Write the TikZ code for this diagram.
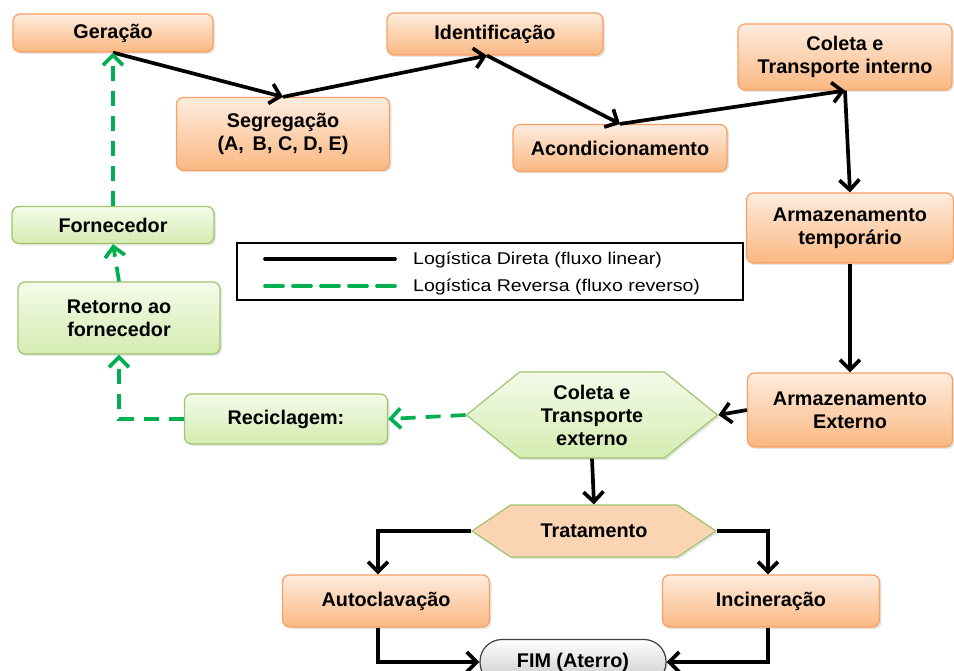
\documentclass[tikz,border=0pt]{standalone}
\usepackage{fontspec}
\setmainfont{Liberation Sans}
\newfontfamily\legendfont[FakeStretch=1.15]{Liberation Sans}
\usetikzlibrary{arrows.meta,shapes.symbols,shadows}

\definecolor{orline}{RGB}{248,160,100}
\definecolor{ortop}{RGB}{254,236,222}
\definecolor{orbot}{RGB}{250,184,130}
\definecolor{grline}{RGB}{160,196,110}
\definecolor{grtop}{RGB}{244,251,234}
\definecolor{grbot}{RGB}{212,236,176}
\definecolor{tratfill}{RGB}{251,212,180}
\definecolor{revgreen}{RGB}{0,176,80}

\newcommand{\boxfont}{\bfseries\fontsize{19.8}{23}\selectfont}

\tikzset{
  obox/.style={draw=orline, line width=1.2pt, rounded corners=7pt, top color=ortop, bottom color=orbot,
    align=center, font=\boxfont, inner sep=0pt, drop shadow={opacity=0.2, shadow xshift=2pt, shadow yshift=-2pt}},
  gbox/.style={obox, draw=grline, top color=grtop, bottom color=grbot},
  flow/.style={line width=3.7pt, black, -{Straight Barb[length=10pt,width=20pt]}},
  revflow/.style={line width=3.7pt, revgreen, dash pattern=on 15pt off 10pt, -{Straight Barb[length=10pt,width=20pt]}}
}

\begin{document}
\begin{tikzpicture}[x=1pt,y=-1pt]

\useasboundingbox (0,0) rectangle (954,671);

% direct chain
\node[obox, minimum width=200, minimum height=38] (ger) at (113,33) {Geração};
\node[obox, minimum width=213, minimum height=73] (seg) at (283,134) {Segregação\\(A,\, B, C, D, E)};
\node[obox, minimum width=216, minimum height=42] (ident) at (495,34) {Identificação};
\node[obox, minimum width=214, minimum height=47] (acond) at (620,148) {Acondicionamento};
\node[obox, minimum width=214, minimum height=66] (colint) at (845,57) {Coleta e\\Transporte interno};
\node[obox, minimum width=207, minimum height=70] (armtemp) at (850,228) {Armazenamento\\temporário};
\node[obox, minimum width=205, minimum height=74] (armext) at (850,410) {Armazenamento\\Externo};

\node[gbox, shape=signal, signal to=west and east, signal pointer angle=78, rounded corners=0pt,
  minimum width=251, minimum height=86] (colext) at (592,415) {Coleta e\\Transporte\\externo};
\node[shape=signal, signal to=west and east, signal pointer angle=68, draw=grline, line width=1.2pt,
  fill=tratfill, font=\boxfont, inner sep=0pt, minimum width=244, minimum height=52,
  drop shadow={opacity=0.2, shadow xshift=2pt, shadow yshift=-2pt}] (trat) at (594,531) {Tratamento};
\node[obox, minimum width=207, minimum height=52] (auto) at (386,601) {Autoclavação};
\node[obox, minimum width=217, minimum height=52] (incin) at (771,601) {Incineração};
\node[obox, draw=black!75, top color=white, bottom color=black!22, rounded corners=22pt,
  minimum width=186, minimum height=45] (fim) at (573,662) {FIM (Aterro)};

% reverse chain
\node[gbox, minimum width=203, minimum height=50] (recic) at (286,419) {Reciclagem:};
\node[gbox, minimum width=202, minimum height=72] (retorno) at (119,318) {Retorno ao\\fornecedor};
\node[gbox, minimum width=202, minimum height=37] (forn) at (113,225) {Fornecedor};

% legend
\node[draw, line width=1.8pt, minimum width=506, minimum height=57, inner sep=0pt] (legend) at (490,271.5) {};
\coordinate (dira) at (265,259);
\coordinate (dirb) at (395,259);
\coordinate (reva) at (265,286);
\coordinate (revb) at (395,286);
\draw[line width=3.7pt, line cap=round] (dira) -- (dirb);
\draw[line width=3.7pt, revgreen, dash pattern=on 18pt off 10pt, line cap=round] (reva) -- (revb);
\node[anchor=west, font=\legendfont\fontsize{17}{19}\selectfont, inner sep=0pt] (dirtxt) at (413,260) {Logística Direta (fluxo linear)};
\node[anchor=west, font=\legendfont\fontsize{17}{19}\selectfont, inner sep=0pt] (revtxt) at (413,287) {Logística Reversa (fluxo reverso)};

\draw[flow] (ger.south) -- (seg.north);
\draw[flow] (seg.north) -- ([xshift=-8pt]ident.south);
\draw[flow] ([xshift=-8pt]ident.south) -- (acond.north);
\draw[flow] (acond.north) -- (colint.south);
\draw[flow] (colint.south) -- (armtemp.north);
\draw[flow] (armtemp.south) -- (armext.north);
\draw[flow] (armext.west) -- (colext.east);
\draw[flow] (colext.south) -- (trat.north);
\draw[flow] (trat.west) -| ([xshift=-8pt]auto.north);
\draw[flow] (trat.east) -| ([xshift=-3pt]incin.north);
\draw[flow] ([xshift=-8pt]auto.south) |- (fim.west);
\draw[flow] ([xshift=-3pt]incin.south) |- (fim.east);

\draw[revflow] (colext.west) -- (recic.east);
\draw[revflow] (recic.west) -| (retorno.south);
\draw[revflow] (retorno.north) -- (forn.south);
\draw[revflow] (forn.north) -- (ger.south);

\end{tikzpicture}
\end{document}
